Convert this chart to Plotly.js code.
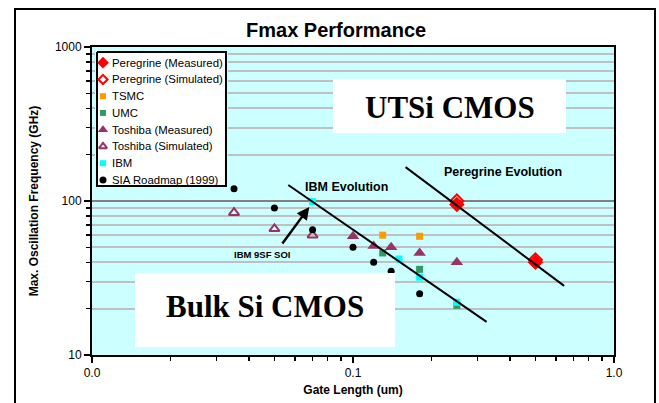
<!DOCTYPE html>
<html>
<head>
<meta charset="utf-8">
<script src="https://cdn.plot.ly/plotly-3.0.1.min.js"></script>
<style>
  html, body { margin: 0; padding: 0; background: #ffffff; }
  #chart { width: 659px; height: 403px; }
</style>
</head>
<body>
<div id="chart"></div>
<script>
// ---- Data ----
const pereMeasX = [0.25, 0.5];
const pereMeasY = [95, 40];
const pereSimX  = [0.25, 0.5];
const pereSimY  = [100, 41.5];
const tsmcX = [0.13, 0.18];
const tsmcY = [60, 59];
const umcX  = [0.13, 0.18, 0.25];
const umcY  = [46, 36, 21];
const toshMeasX = [0.1, 0.12, 0.14, 0.18, 0.25];
const toshMeasY = [59, 51, 50, 46, 40];
const toshSimX  = [0.035, 0.05, 0.07];
const toshSimY  = [84, 66, 60];
const ibmX = [0.07, 0.15, 0.18, 0.25];
const ibmY = [99, 42, 32, 22];
const siaX = [0.035, 0.05, 0.07, 0.1, 0.12, 0.14, 0.18];
const siaY = [120, 90, 65, 50, 40, 35, 25];

// trend lines
const ibmEvoX  = [0.0565, 0.325];
const ibmEvoY  = [127, 16.4];
const pereEvoX = [0.159, 0.644];
const pereEvoY = [166, 28.1];

// arrow "IBM 9SF SOI" head point (data units)
const arrowHeadX = 0.068;
const arrowHeadY = 91.4;

// ticks
const xTickVals = [0.01, 0.1, 1];
const xTickText = ['0.0', '0.1', '1.0'];
const xMinorVals = [0.02,0.03,0.04,0.05,0.06,0.07,0.08,0.09,0.2,0.3,0.4,0.5,0.6,0.7,0.8,0.9];
const yTickVals = [10, 100, 1000];
const yTickText = ['10', '100', '1000'];
const yMinorVals = [20,30,40,50,60,70,80,90,200,300,400,500,600,700,800,900];

// legend labels (in order)
const legendNames = ['Peregrine (Measured)', 'Peregrine (Simulated)', 'TSMC', 'UMC',
                     'Toshiba (Measured)', 'Toshiba (Simulated)', 'IBM', 'SIA Roadmap (1999)'];

const FONT = '"Liberation Sans", Arial, sans-serif';
const SERIF = '"Liberation Serif", "Times New Roman", serif';

// series styles
const styles = [
  { symbol: 'diamond', color: '#FF0000', size: 12, lsize: 9, lw: 0 },
  { symbol: 'diamond-open', color: '#FF0000', size: 10, lsize: 7, lw: 2 },
  { symbol: 'square', color: '#FF9900', size: 7, lsize: 6, lw: 0 },
  { symbol: 'square', color: '#339966', size: 7, lsize: 6, lw: 0 },
  { symbol: 'triangle-up', color: '#993366', size: 11, lsize: 9, lw: 0 },
  { symbol: 'triangle-up-open', color: '#993366', size: 9, lsize: 7, lw: 2 },
  { symbol: 'square', color: '#00FFFF', size: 7, lsize: 6, lw: 0 },
  { symbol: 'circle', color: '#000000', size: 7, lsize: 7, lw: 0 }
];
const seriesX = [pereMeasX, pereSimX, tsmcX, umcX, toshMeasX, toshSimX, ibmX, siaX];
const seriesY = [pereMeasY, pereSimY, tsmcY, umcY, toshMeasY, toshSimY, ibmY, siaY];
// draw order (simulated Peregrine under measured)
const drawOrder = [1, 0, 2, 3, 4, 5, 6, 7];

const traces = [];
drawOrder.forEach(function (i) {
  const s = styles[i];
  traces.push({
    type: 'scatter', mode: 'markers', name: legendNames[i],
    x: seriesX[i], y: seriesY[i], xaxis: 'x', yaxis: 'y', showlegend: false,
    marker: { symbol: s.symbol, color: s.color, size: s.size, line: { color: s.color, width: s.lw } },
    hoverinfo: 'skip'
  });
});
traces.push({ type: 'scatter', mode: 'lines', x: ibmEvoX, y: ibmEvoY, showlegend: false,
  line: { color: '#000000', width: 2 }, hoverinfo: 'skip' });
traces.push({ type: 'scatter', mode: 'lines', x: pereEvoX, y: pereEvoY, showlegend: false,
  line: { color: '#000000', width: 2 }, hoverinfo: 'skip' });

// ---- custom legend on its own small subplot (x2/y2) ----
const LEG_W = 129, LEG_TOP = -0.639, LEG_BOT = 7.361;
traces.push({
  type: 'scatter', mode: 'lines', xaxis: 'x2', yaxis: 'y2', showlegend: false,
  x: [0, LEG_W, LEG_W, 0, 0], y: [LEG_TOP, LEG_TOP, LEG_BOT, LEG_BOT, LEG_TOP],
  fill: 'toself', fillcolor: '#FFFFFF', line: { color: '#000000', width: 2 }, hoverinfo: 'skip'
});
const legendAnn = [];
legendNames.forEach(function (name, i) {
  const s = styles[i];
  traces.push({
    type: 'scatter', mode: 'markers', xaxis: 'x2', yaxis: 'y2', showlegend: false,
    x: [6], y: [i],
    marker: { symbol: s.symbol, color: s.color, size: s.lsize, line: { color: s.color, width: s.lw } },
    hoverinfo: 'skip'
  });
  legendAnn.push({ xref: 'x2', yref: 'y2', x: 13, y: i, text: name, showarrow: false,
    xanchor: 'left', yanchor: 'middle', font: { family: FONT, size: 11.4, color: '#000' } });
});

const layout = {
  width: 659, height: 403,
  margin: { l: 92, r: 45, t: 47, b: 48 },
  paper_bgcolor: '#FFFFFF',
  plot_bgcolor: '#CCFFFF',
  font: { family: FONT, color: '#000000', size: 12 },
  title: { text: 'Fmax Performance', font: { family: FONT, size: 20, weight: 'bold', color: '#000' },
           x: 0.51, xanchor: 'center', y: 0.925, yanchor: 'middle' },
  showlegend: false,
  xaxis: {
    type: 'log', range: [-2, 0],
    tickmode: 'array', tickvals: xTickVals, ticktext: xTickText,
    ticks: 'outside', ticklen: 6, tickwidth: 2, tickcolor: '#000',
    showgrid: false, zeroline: false,
    showline: true, linecolor: '#000', linewidth: 2, mirror: true,
    tickfont: { family: FONT, size: 12, color: '#000' },
    minor: { tickmode: 'array', tickvals: xMinorVals, ticks: 'outside', ticklen: 4,
             tickwidth: 1.5, tickcolor: '#000', showgrid: false },
    title: { text: 'Gate Length (um)', font: { family: FONT, size: 12, weight: 'bold', color: '#000' }, standoff: 6 }
  },
  yaxis: {
    type: 'log', range: [1, 3],
    tickmode: 'array', tickvals: yTickVals, ticktext: yTickText,
    ticks: 'outside', ticklen: 6, tickwidth: 2, tickcolor: '#000',
    showgrid: true, gridcolor: '#808080', gridwidth: 2, zeroline: false,
    showline: true, linecolor: '#000', linewidth: 2, mirror: true,
    tickfont: { family: FONT, size: 12, color: '#000' },
    minor: { tickmode: 'array', tickvals: yMinorVals, ticks: 'outside', ticklen: 4,
             tickwidth: 1.5, tickcolor: '#000', showgrid: true, gridcolor: '#C0C0C0', gridwidth: 2 },
    title: { text: 'Max. Oscillation Frequency (GHz)', font: { family: FONT, size: 12, weight: 'bold', color: '#000' }, standoff: 14 }
  },
  xaxis2: { domain: [0.00575, 0.2605], range: [-2, 131], visible: false, fixedrange: true },
  yaxis2: { domain: [0.5422, 0.9903], range: [7.481, -0.758], visible: false, fixedrange: true, anchor: 'x2' },
  shapes: [
    // outer chart frame
    { type: 'rect', xref: 'paper', yref: 'paper', x0: -0.1475, x1: 1.0785, y0: -0.2, y1: 1.1234,
      line: { color: '#000', width: 2 }, fillcolor: 'rgba(0,0,0,0)', layer: 'below' },
    // text boxes
    { type: 'rect', xref: 'paper', yref: 'paper', x0: 0.4617, x1: 0.908, y0: 0.7208, y1: 0.896,
      line: { width: 0 }, fillcolor: '#FFFFFF', layer: 'above' },
    { type: 'rect', xref: 'paper', yref: 'paper', x0: 0.0824, x1: 0.5805, y0: 0.026, y1: 0.266,
      line: { width: 0 }, fillcolor: '#FFFFFF', layer: 'above' }
  ],
  annotations: [
    { xref: 'paper', yref: 'paper', x: 0.685, y: 0.805, text: '<b>UTSi CMOS</b>', showarrow: false,
      font: { family: SERIF, size: 31, weight: 'bold', color: '#000' }, xanchor: 'center', yanchor: 'middle' },
    { xref: 'paper', yref: 'paper', x: 0.3305, y: 0.159, text: '<b>Bulk Si CMOS</b>', showarrow: false,
      font: { family: SERIF, size: 31, weight: 'bold', color: '#000' }, xanchor: 'center', yanchor: 'middle' },
    { xref: 'paper', yref: 'paper', x: 0.4885, y: 0.545, text: 'IBM Evolution', showarrow: false,
      font: { family: FONT, size: 12.5, weight: 'bold', color: '#000' }, xanchor: 'center', yanchor: 'middle' },
    { xref: 'paper', yref: 'paper', x: 0.7864, y: 0.594, text: 'Peregrine Evolution', showarrow: false,
      font: { family: FONT, size: 12.5, weight: 'bold', color: '#000' }, xanchor: 'center', yanchor: 'middle' },
    { xref: 'paper', yref: 'paper', x: 0.3257, y: 0.3247, text: 'IBM 9SF SOI', showarrow: false,
      font: { family: FONT, size: 9.5, weight: 'bold', color: '#000' }, xanchor: 'center', yanchor: 'middle' },
    { xref: 'x', yref: 'y', x: Math.log10(arrowHeadX), y: Math.log10(arrowHeadY), text: '',
      showarrow: true, arrowhead: 2, arrowsize: 1, arrowwidth: 2.5, arrowcolor: '#000',
      axref: 'pixel', ayref: 'pixel', ax: -28, ay: 38, standoff: 0 }
  ].concat(legendAnn)
};

Plotly.newPlot('chart', traces, layout, { displayModeBar: false, staticPlot: true });
</script>
</body>
</html>
